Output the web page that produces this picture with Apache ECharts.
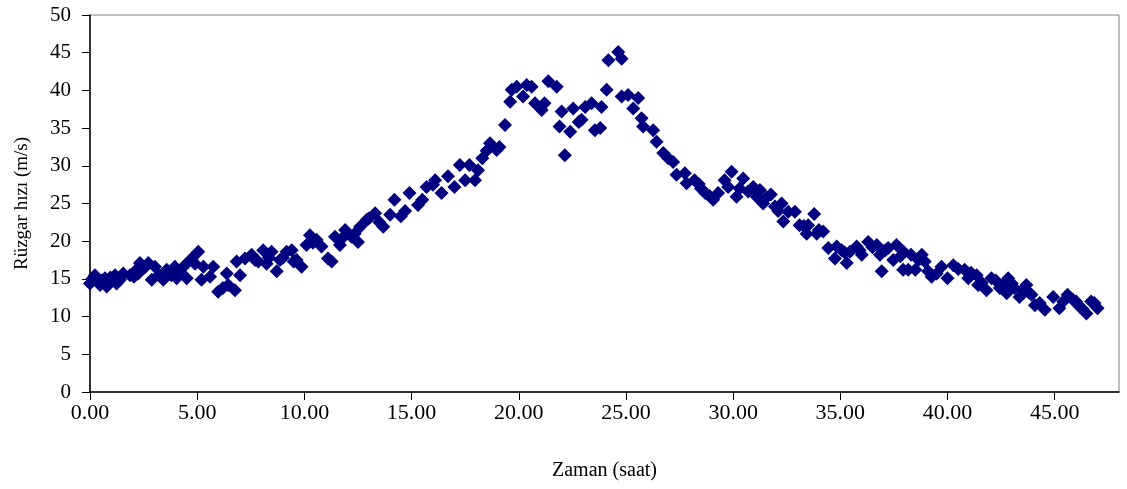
<!DOCTYPE html>
<html>
<head>
<meta charset="utf-8">
<script src="https://cdn.jsdelivr.net/npm/echarts@6/dist/echarts.min.js"></script>
<style>
  html, body { margin: 0; padding: 0; background: #fff; }
  #chart { width: 1127px; height: 489px; }
</style>
</head>
<body>
<div id="chart"></div>
<script>
// zaman (saat)
var hours = [
  0, 0.1, 0.23, 0.35, 0.47, 0.55, 0.7, 0.78, 0.95, 1.0, 1.17, 1.24, 1.4, 1.55, 1.87, 2.05, 2.1, 2.25, 2.33, 2.55, 2.72, 2.88,
  3.03, 3.2, 3.42, 3.58, 3.8, 3.96, 4.04, 4.2, 4.43, 4.51, 4.74, 4.9, 5.05, 5.2, 5.29, 5.6, 5.75, 5.98,
  6.2, 6.38, 6.45, 6.76, 6.84, 7.0, 7.23, 7.54, 7.7, 7.85, 8.08, 8.24, 8.35, 8.47, 8.71, 8.86, 9.0, 9.17,
  9.41, 9.5, 9.64, 9.87, 10.1, 10.26, 10.4, 10.57, 10.8, 11.1, 11.27, 11.43, 11.66, 11.8, 11.9, 12.2, 12.35, 12.5, 12.6,
  12.9, 13.0, 13.3, 13.5, 13.68, 14.0, 14.2, 14.5, 14.7, 14.9, 15.3, 15.5, 15.7, 16.0, 16.1, 16.4, 16.7, 17.0, 17.25,
  17.5, 17.7, 17.96, 18.1, 18.3, 18.5, 18.66, 18.97, 19.1, 19.36, 19.6, 19.67, 19.9, 20.2, 20.37,
  20.6, 20.76, 21.07, 21.2, 21.38, 21.77, 21.9, 22.0, 22.15, 22.4, 22.54, 22.8, 22.93,
  23.1, 23.4, 23.55, 23.8, 23.86, 24.1, 24.18, 24.64, 24.8, 24.8, 25.1, 25.34, 25.57,
  25.73, 25.8, 26.27, 26.43, 26.74, 26.97, 27.2, 27.36, 27.75, 27.83, 28.2, 28.4, 28.5, 28.7, 28.9,
  29.07, 29.3, 29.6, 29.77, 29.93, 30.16, 30.3, 30.47, 30.7, 30.94, 31.1, 31.25, 31.4, 31.55, 31.76,
  31.95, 32.1, 32.26, 32.34, 32.57, 32.88, 33.1, 33.3, 33.43, 33.5, 33.78, 33.9, 34.0, 34.2, 34.44, 34.75,
  34.83, 35.06, 35.2, 35.3, 35.45, 35.76, 35.9, 36.0, 36.3, 36.5, 36.7, 36.85, 36.93, 37.1, 37.23, 37.47, 37.62,
  37.8, 37.93, 37.95, 38.17, 38.3, 38.5, 38.65, 38.8, 38.94, 39.1, 39.26, 39.5, 39.72, 40.0, 40.27, 40.5, 40.8,
  40.97, 41.1, 41.36, 41.43, 41.6, 41.82, 42.05, 42.25, 42.44, 42.6, 42.76, 42.83, 43.0, 43.12, 43.36, 43.5, 43.68, 43.8, 43.92,
  44.08, 44.3, 44.54, 44.93, 45.22, 45.4, 45.6, 45.86, 46.0, 46.17, 46.3, 46.48, 46.7, 46.85, 47.0
];
// rüzgar hızı (m/s)
var speeds = [
  14.4, 15.0, 15.5, 14.8, 14.2, 14.8, 15.1, 14.0, 15.2, 14.8, 15.5, 14.4, 14.9, 15.7, 15.5, 15.3, 16.0, 15.7, 17.1, 16.5, 17.1, 14.9,
  16.6, 15.5, 14.9, 16.2, 15.5, 16.6, 15.1, 16.0, 16.8, 15.1, 17.7, 17.0, 18.6, 14.9, 16.6, 15.3, 16.6, 13.3,
  13.8, 15.7, 14.2, 13.5, 17.3, 15.5, 17.7, 18.2, 17.5, 17.3, 18.8, 17.0, 17.8, 18.6, 16.0, 17.5, 17.8, 18.6,
  18.8, 17.3, 17.5, 16.6, 19.5, 20.8, 19.8, 20.2, 19.3, 17.7, 17.3, 20.6, 19.5, 20.5, 21.5, 20.6, 21.0, 19.9, 21.9,
  22.8, 23.0, 23.7, 22.5, 21.9, 23.5, 25.5, 23.3, 24.0, 26.4, 24.8, 25.5, 27.2, 27.5, 28.1, 26.4, 28.6, 27.2, 30.1,
  28.1, 30.1, 28.1, 29.4, 31.0, 32.0, 33.0, 32.1, 32.5, 35.4, 38.5, 40.1, 40.5, 39.2, 40.7,
  40.5, 38.3, 37.4, 38.3, 41.2, 40.5, 35.2, 37.2, 31.4, 34.5, 37.6, 35.8, 36.1,
  37.8, 38.3, 34.7, 35.0, 37.8, 40.1, 44.0, 45.1, 44.2, 39.2, 39.4, 37.6, 39.0,
  36.3, 35.2, 34.7, 33.2, 31.7, 31.0, 30.5, 28.8, 29.0, 27.7, 28.1, 27.6, 27.0, 26.4, 26.0,
  25.5, 26.4, 28.1, 27.2, 29.2, 25.9, 27.0, 28.3, 26.6, 27.2, 25.9, 26.8, 25.0, 25.8, 26.2,
  24.6, 24.0, 25.0, 22.6, 23.9, 23.9, 22.1, 22.0, 21.0, 22.1, 23.6, 21.0, 21.5, 21.3, 19.1, 17.7,
  19.3, 18.8, 18.5, 17.1, 18.6, 19.3, 18.8, 18.2, 19.9, 19.2, 19.5, 18.2, 16.0, 18.8, 19.1, 17.5, 19.5,
  18.0, 16.2, 18.6, 16.2, 18.2, 16.2, 17.5, 18.2, 17.3, 16.0, 15.3, 15.7, 16.6, 15.1, 16.8, 16.3, 16.2,
  15.1, 15.8, 15.5, 14.2, 14.5, 13.5, 15.1, 14.8, 13.8, 14.2, 13.1, 15.1, 14.4, 13.8, 12.6, 13.5, 14.2, 13.2, 12.9,
  11.5, 11.8, 10.9, 12.6, 11.1, 12.0, 12.9, 12.2, 12.0, 11.3, 11.0, 10.4, 12.0, 11.8, 11.1
];

var points = [];
for (var i = 0; i < hours.length; i++) {
    points.push([hours[i], speeds[i]]);
}

var chart = echarts.init(document.getElementById('chart'));

var option = {
    animation: false,
    textStyle: { fontFamily: 'Liberation Serif' },
    grid: {
        left: 90, right: 8, top: 15, bottom: 97,
        show: true,
        borderColor: '#808080',
        borderWidth: 1
    },
    xAxis: {
        type: 'value',
        min: 0, max: 48, interval: 5,
        name: 'Zaman (saat)',
        nameLocation: 'middle',
        nameGap: 69,
        nameTextStyle: { fontSize: 20, color: '#000', fontFamily: 'Liberation Serif' },
        axisLine: { onZero: false, lineStyle: { color: '#000', width: 1.5 } },
        axisTick: { length: 8, lineStyle: { color: '#000' } },
        splitLine: { show: false },
        axisLabel: {
            margin: 10,
            fontSize: 22,
            color: '#000',
            showMaxLabel: false,
            formatter: function (v) { return v.toFixed(2); }
        }
    },
    yAxis: {
        type: 'value',
        min: 0, max: 50, interval: 5,
        name: 'Rüzgar hızı (m/s)',
        nameLocation: 'middle',
        nameGap: 58,
        nameTextStyle: { fontSize: 19, color: '#000', fontFamily: 'Liberation Serif' },
        axisLine: { onZero: false, lineStyle: { color: '#000', width: 1.5 } },
        axisTick: { length: 8, lineStyle: { color: '#000' } },
        splitLine: { show: false },
        axisLabel: { margin: 19, fontSize: 21, color: '#000' }
    },
    series: [{
        type: 'scatter',
        symbol: 'diamond',
        symbolSize: 14,
        itemStyle: { color: '#000080', opacity: 1 },
        data: points
    }]
};

chart.setOption(option);
</script>
</body>
</html>
